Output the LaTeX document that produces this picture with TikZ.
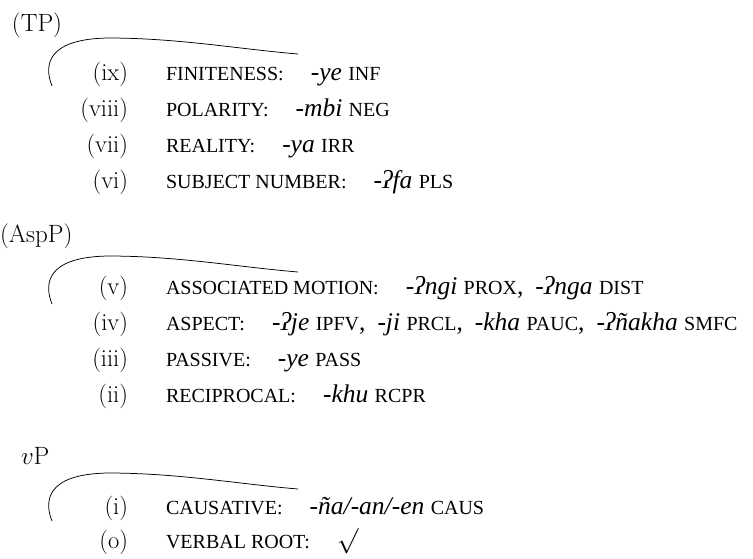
\RequirePackage{fix-cm}
\documentclass[tikz,border=0pt]{standalone}
\usepackage[no-math]{fontspec}
\setmainfont{Liberation Serif}
\newcommand\lmf{\fontfamily{lmr}\selectfont}
\newcommand\fsc[1]{{\fontsize{20}{24}\selectfont #1}}
\newcommand\gap{\hspace{27pt}}
\newcommand\cgap{\hspace{12pt}}
\newcommand\rootsign{{\lmf$\surd$}}
\begin{document}
\begin{tikzpicture}[x=1pt,y=-1pt,
  every node/.style={inner sep=0pt,outer sep=0pt,font=\fontsize{25.5}{28}\selectfont},
  num/.style={anchor=base east,font=\fontsize{24.5}{28}\selectfont\lmf},
  row/.style={anchor=base west},
  head/.style={anchor=base west,font=\fontsize{25}{28}\selectfont\lmf},
  bracecurve/.pic={\draw[line width=0.75pt] (-246,32) .. controls (-254,12) and (-252,-15) .. (-190,-16) .. controls (-120,-16) and (-60,-5) .. (0,0);}
]
\useasboundingbox (0,0) rectangle (753,558);

% TP group
\node[head] (tp) at (12,31) {(TP)};
\pic at (298,54) {bracecurve};
\node[num] (n9) at (128,80) {(ix)};
\node[row] (r9) at (166,80) {\fsc{FINITENESS:}\gap\textit{-ye} \fsc{INF}};
\node[num] (n8) at (128,116) {(viii)};
\node[row] (r8) at (166,116) {\fsc{POLARITY:}\gap\textit{-mbi} \fsc{NEG}};
\node[num] (n7) at (128,152) {(vii)};
\node[row] (r7) at (166,152) {\fsc{REALITY:}\gap\textit{-ya} \fsc{IRR}};
\node[num] (n6) at (128,188) {(vi)};
\node[row] (r6) at (166,188) {\fsc{SUBJECT NUMBER:}\gap\textit{-ʔfa} \fsc{PLS}};

% AspP group
\node[head] (asp) at (0,242) {(AspP)};
\pic at (298,272) {bracecurve};
\node[num] (n5) at (128,294) {(v)};
\node[row] (r5) at (166,294) {\fsc{ASSOCIATED MOTION:}\gap\textit{-ʔngi} \fsc{PROX},\cgap\textit{-ʔnga} \fsc{DIST}};
\node[num] (n4) at (128,330) {(iv)};
\node[row] (r4) at (166,330) {\fsc{ASPECT:}\gap\textit{-ʔje} \fsc{IPFV},\cgap\textit{-ji} \fsc{PRCL},\cgap\textit{-kha} \fsc{PAUC},\cgap\textit{-ʔñakha} \fsc{SMFC}};
\node[num] (n3) at (128,366) {(iii)};
\node[row] (r3) at (166,366) {\fsc{PASSIVE:}\gap\textit{-ye} \fsc{PASS}};
\node[num] (n2) at (128,402) {(ii)};
\node[row] (r2) at (166,402) {\fsc{RECIPROCAL:}\gap\textit{-khu} \fsc{RCPR}};

% vP group
\node[head] (vp) at (21,464) {$v$P};
\pic at (298,489) {bracecurve};
\node[num] (n1) at (128,514) {(i)};
\node[row] (r1) at (166,514) {\fsc{CAUSATIVE:}\gap\textit{-ña/-an/-en} \fsc{CAUS}};
\node[num] (n0) at (128,548) {(o)};
\node[row] (r0) at (166,548) {\fsc{VERBAL ROOT:}\gap\rootsign};
\end{tikzpicture}
\end{document}
